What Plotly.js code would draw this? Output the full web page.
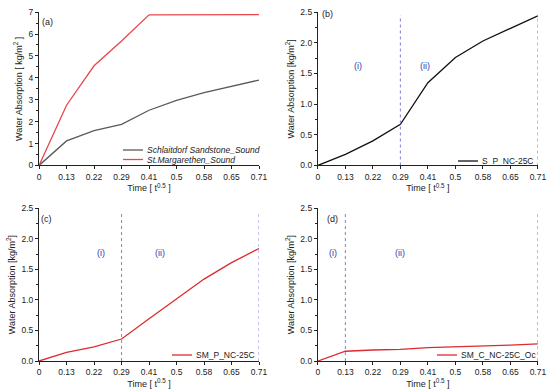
<!DOCTYPE html>
<html>
<head>
<meta charset="utf-8">
<script src="https://cdn.plot.ly/plotly-3.0.1.min.js"></script>
<style>html,body{margin:0;padding:0;background:#fff;}#chart{width:550px;height:392px;}</style>
</head>
<body>
<div id="chart"></div>
<script>
// ---- data ----
const timeCats = ['0','0.13','0.22','0.29','0.41','0.5','0.58','0.65','0.71'];

const seriesA1Name = 'Schlaitdorf Sandstone_Sound';
const seriesA1 = [0, 1.12, 1.59, 1.88, 2.52, 2.97, 3.32, 3.61, 3.9];
const seriesA2Name = 'St.Margarethen_Sound';
const seriesA2 = [0, 2.75, 4.55, 5.68, 6.88, 6.89, 6.89, 6.89, 6.89];

const seriesBName = 'S_P_NC-25C';
const seriesB = [0, 0.18, 0.4, 0.67, 1.35, 1.76, 2.03, 2.23, 2.44];

const seriesCName = 'SM_P_NC-25C';
const seriesC = [0, 0.14, 0.23, 0.36, 0.69, 1.02, 1.34, 1.61, 1.84];

const seriesDName = 'SM_C_NC-25C_Oc';
const seriesD = [0, 0.16, 0.18, 0.19, 0.22, 0.23, 0.25, 0.26, 0.28];

const dividersB = ['0.29', '0.71'];
const dividersC = ['0.29', '0.71'];
const dividersD = ['0.13', '0.71'];

const regionLabels = ['(i)', '(ii)'];
const regionPosB = [[1.45, 1.62], [3.9, 1.62]];
const regionPosC = [[2.25, 1.76], [4.4, 1.76]];
const regionPosD = [[0.55, 1.76], [2.98, 1.76]];

const panelLabels = ['(a)', '(b)', '(c)', '(d)'];

// ---- styles ----
const FONT = 'Liberation Sans, Arial, sans-serif';
const W = 550, H = 392;
const divColor = '#8a8ae4';
const colA1 = '#5a5a5a', colA2 = '#e8474b', colB = '#111111', colC = '#dc2b2f', colD = '#dc2b2f';
const traces = [];

function line(x, y, name, color, xa, ya) {
  traces.push({x: x, y: y, name: name, type: 'scatter', mode: 'lines',
    line: {color: color, width: 1.3}, xaxis: xa, yaxis: ya, showlegend: false});
}
function dividers(list, xa, ya) {
  list.forEach(c => traces.push({x: [c, c], y: [0, 2.45], type: 'scatter', mode: 'lines',
    line: {color: divColor, width: 1.1, dash: 'dot'}, xaxis: xa, yaxis: ya,
    showlegend: false, hoverinfo: 'skip'}));
}

line(timeCats, seriesA1, seriesA1Name, colA1, 'x', 'y');
line(timeCats, seriesA2, seriesA2Name, colA2, 'x', 'y');
line(timeCats, seriesB, seriesBName, colB, 'x2', 'y2');
line(timeCats, seriesC, seriesCName, colC, 'x3', 'y3');
line(timeCats, seriesD, seriesDName, colD, 'x4', 'y4');
dividers(dividersB, 'x2', 'y2');
dividers(dividersC, 'x3', 'y3');
dividers(dividersD, 'x4', 'y4');

const colL = [0.071, 0.471], colR = [0.578, 0.978];
const rowT = [0.578, 0.969], rowB = [0.079, 0.469];

function xaxis(dom, anchor) {
  return {type: 'category', domain: dom, anchor: anchor, range: [0, 8],
    showline: true, linecolor: '#222', linewidth: 1, mirror: false,
    ticks: 'outside', ticklen: 3, tickcolor: '#222', showgrid: false, zeroline: false,
    tickfont: {family: FONT, size: 8.5, color: '#222'},
    title: {text: 'Time [ t<sup>0.5</sup> ]', font: {family: FONT, size: 9, color: '#222'}, standoff: 4}};
}
function yaxis(dom, anchor, range, dtick, title) {
  return {domain: dom, anchor: anchor, range: range, dtick: dtick, tick0: 0,
    showline: true, linecolor: '#222', linewidth: 1,
    ticks: 'outside', ticklen: 3, tickcolor: '#222', showgrid: false, zeroline: false,
    minor: {ticks: 'outside', ticklen: 2, dtick: dtick / 2, tickcolor: '#222', showgrid: false},
    tickformat: dtick < 1 ? '.1f' : 'd',
    tickfont: {family: FONT, size: 8.5, color: '#222'},
    title: {text: title, font: {family: FONT, size: 9, color: '#222'}, standoff: 4}};
}

const annotations = [];
const shapes = [];
const panelPos = [[0.087, 0.945], [0.596, 0.965], [0.085, 0.442], [0.605, 0.442]];
panelLabels.forEach((t, i) => annotations.push({text: t, xref: 'paper', yref: 'paper',
  x: panelPos[i][0], y: panelPos[i][1], showarrow: false, xanchor: 'center', yanchor: 'middle',
  font: {family: FONT, size: 9, color: '#222'}}));
[[regionPosB, 'x2', 'y2'], [regionPosC, 'x3', 'y3'], [regionPosD, 'x4', 'y4']].forEach(([pos, xa, ya]) => {
  pos.forEach((p, i) => annotations.push({text: regionLabels[i], xref: xa, yref: ya,
    x: p[0], y: p[1], showarrow: false, font: {family: FONT, size: 9, color: '#3a3aa8'}}));
});

// manual legends (sample line + label), positions in pixels
function legendItem(name, color, px, py, italic) {
  shapes.push({type: 'line', xref: 'paper', yref: 'paper',
    x0: px / W, x1: (px + 20) / W, y0: 1 - py / H, y1: 1 - py / H,
    line: {color: color, width: 1.3}});
  annotations.push({text: name, xref: 'paper', yref: 'paper', x: (px + 22) / W, y: 1 - py / H,
    xanchor: 'left', yanchor: 'middle', showarrow: false,
    font: {family: FONT, size: 8.5, color: '#222', style: italic ? 'italic' : 'normal'}});
}
legendItem(seriesA1Name, colA1, 123, 150, true);
legendItem(seriesA2Name, colA2, 123, 159.5, true);
legendItem(seriesBName, colB, 458, 161, false);
legendItem(seriesCName, colC, 172, 355, false);
legendItem(seriesDName, colD, 437, 355, false);

const layout = {
  width: W, height: H, margin: {l: 0, r: 0, t: 0, b: 0},
  paper_bgcolor: '#fff', plot_bgcolor: '#fff', showlegend: false,
  xaxis: xaxis(colL, 'y'), yaxis: yaxis(rowT, 'x', [0, 7], 1, 'Water Absorption [ kg/m<sup>2</sup> ]'),
  xaxis2: xaxis(colR, 'y2'), yaxis2: yaxis(rowT, 'x2', [0, 2.5], 0.5, 'Water Absorption [kg/m<sup>2</sup>]'),
  xaxis3: xaxis(colL, 'y3'), yaxis3: yaxis(rowB, 'x3', [0, 2.5], 0.5, 'Water Absorption [kg/m<sup>2</sup>]'),
  xaxis4: xaxis(colR, 'y4'), yaxis4: yaxis(rowB, 'x4', [0, 2.5], 0.5, 'Water Absorption [kg/m<sup>2</sup>]'),
  annotations: annotations,
  shapes: shapes
};

Plotly.newPlot('chart', traces, layout, {staticPlot: true});
</script>
</body>
</html>
